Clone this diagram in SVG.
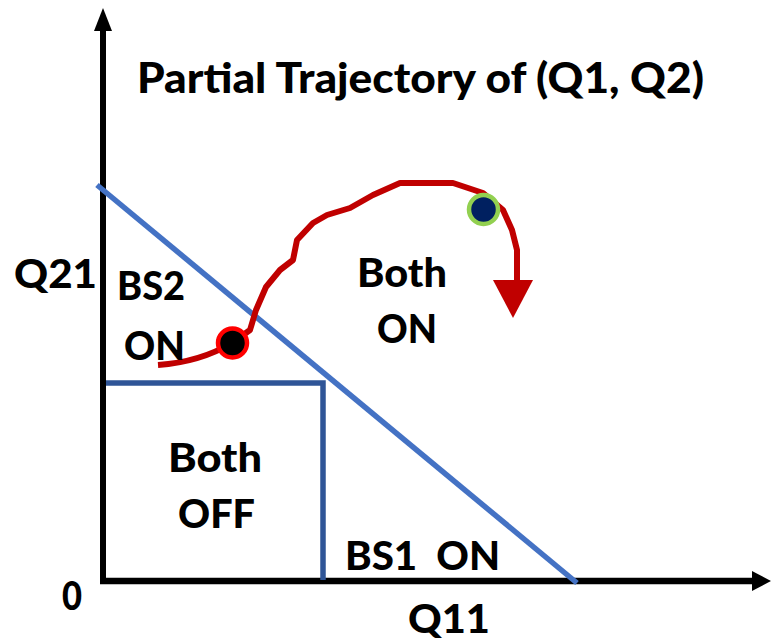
<svg xmlns="http://www.w3.org/2000/svg" width="771" height="642" viewBox="0 0 771 642">
<style>
text{font-family:Lato,"Open Sans","Liberation Sans",sans-serif;font-weight:900;fill:#000}
.l{font-size:40px}
.t{font-size:42px}
</style>
<rect width="771" height="642" fill="#fff"/>
<g id="axes">
<line x1="103" y1="584" x2="103" y2="28" stroke="#000" stroke-width="6"/>
<polygon points="103,8 94,31 112,31" fill="#000"/>
<line x1="100" y1="581" x2="754" y2="581" stroke="#000" stroke-width="6.5"/>
<polygon points="771,581 752,571 752,591" fill="#000"/>
</g>
<g id="regions">
<line x1="97" y1="185" x2="577" y2="583" stroke="#4472C4" stroke-width="5.5"/>
<polyline points="106,383 323,383 323,580" fill="none" stroke="#2F5597" stroke-width="5.5"/>
</g>
<g id="trajectory">
<path d="M158,365 Q200,362 232,343 L250,330 L256,310 L266,287 L280,270 L293,260 L297,240 L313,223 L327,215 L350,208 L373,195 L400,183 L453,183 L483,193 L503,210 L512,230 L517,250 L517,282" fill="none" stroke="#C00000" stroke-width="6" stroke-linejoin="round"/>
<polygon points="493,280 533,280 513,318" fill="#C00000"/>
</g>
<g id="start-point">
<circle cx="232.5" cy="343" r="14.5" fill="#000" stroke="#FF0000" stroke-width="4.5"/>
</g>
<g id="end-point">
<circle cx="483.5" cy="209.5" r="14.5" fill="#002060" stroke="#92D050" stroke-width="4.5"/>
</g>
<g id="labels">
<text class="t" x="137" y="93" textLength="567" lengthAdjust="spacingAndGlyphs">Partial Trajectory of (Q1, Q2)</text>
<text class="l" x="14" y="288" textLength="83" lengthAdjust="spacingAndGlyphs">Q21</text>
<text class="l" x="117" y="300" textLength="68" lengthAdjust="spacingAndGlyphs">BS2</text>
<text class="l" x="124" y="360" textLength="61" lengthAdjust="spacingAndGlyphs">ON</text>
<text class="l" x="357" y="287" textLength="90" lengthAdjust="spacingAndGlyphs">Both</text>
<text class="l" x="377" y="343" textLength="60" lengthAdjust="spacingAndGlyphs">ON</text>
<text class="l" x="168" y="472" textLength="94" lengthAdjust="spacingAndGlyphs">Both</text>
<text class="l" x="178" y="528" textLength="77" lengthAdjust="spacingAndGlyphs">OFF</text>
<text class="l" x="345" y="570" textLength="155" lengthAdjust="spacingAndGlyphs" xml:space="preserve">BS1  ON</text>
<text class="l" x="62" y="610" textLength="20" lengthAdjust="spacingAndGlyphs">0</text>
<text class="l" x="408" y="633" textLength="82" lengthAdjust="spacingAndGlyphs">Q11</text>
</g>
</svg>
